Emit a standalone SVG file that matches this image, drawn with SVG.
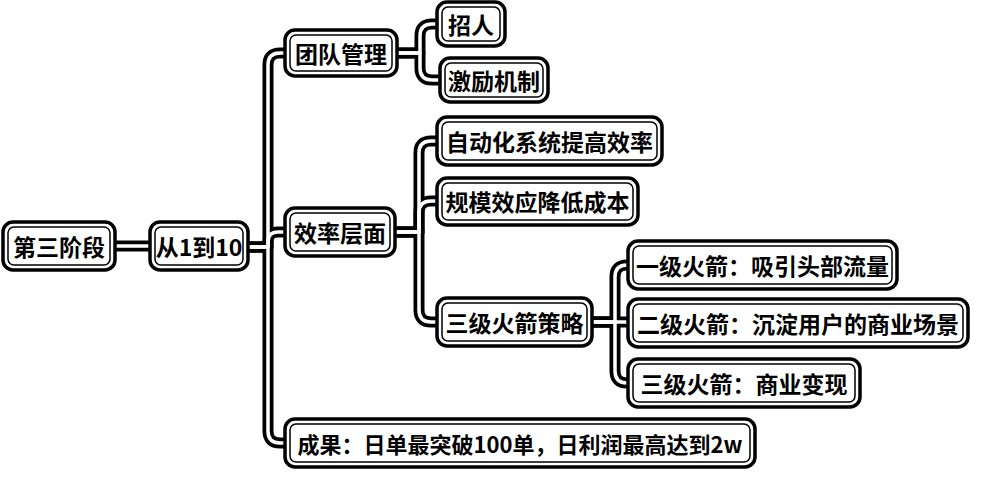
<svg xmlns="http://www.w3.org/2000/svg" width="999" height="478" viewBox="0 0 999 478">
<style>
.bg{fill:#ffffff}
.box{fill:#ffffff;stroke:#000000;stroke-width:3.5}
.inner{fill:none;stroke:#000000;stroke-width:1.5}
.t{font-family:"Noto Sans CJK SC","Noto Sans",sans-serif;font-size:23px;font-weight:bold;fill:#000000;text-anchor:middle;dominant-baseline:central}
.s{font-size:22px}
.lo{fill:none;stroke:#000000;stroke-width:11;stroke-linejoin:round}
.li{fill:none;stroke:#ffffff;stroke-width:3.5;stroke-linejoin:round}
</style>
<defs>
<g id="links">
<path d="M115 246 H150"/>
<path d="M248 247 H268 V65 Q268 53 280 53 H285"/>
<path d="M248 247 H268 V242 Q268 232 278 232 H285"/>
<path d="M248 247 H268 V431 Q268 443 280 443 H285"/>
<path d="M397 53 H420 V36 Q420 24 432 24 H437"/>
<path d="M397 53 H420 V68 Q420 80 432 80 H440"/>
<path d="M395 232 H419 V153 Q419 141 431 141 H437"/>
<path d="M395 232 H419 V213 Q419 201 431 201 H437"/>
<path d="M395 232 H419 V310 Q419 322 431 322 H437"/>
<path d="M592 322 H615 V277 Q615 265 627 265 H628"/>
<path d="M592 322 H628"/>
<path d="M592 322 H615 V371 Q615 383 627 383 H628"/>
</g>
</defs>
<rect class="bg" x="0" y="0" width="999" height="478"/>
<g id="connectors">
<use href="#links" class="lo"/>
<use href="#links" class="li"/>
</g>
<g id="n-stage3"><rect class="box" x="3" y="222" width="112" height="48" rx="10"/><rect class="inner" x="8" y="227" width="102" height="38" rx="6"/><text class="t" x="59" y="246">第三阶段</text></g>
<g id="n-1to10"><rect class="box" x="150" y="222" width="98" height="48" rx="10"/><rect class="inner" x="155" y="227" width="88" height="38" rx="6"/><text class="t" x="199" y="246">从1到10</text></g>
<g id="n-team"><rect class="box" x="285" y="30" width="112" height="46" rx="10"/><rect class="inner" x="290" y="35" width="102" height="36" rx="6"/><text class="t" x="341" y="53">团队管理</text></g>
<g id="n-hire"><rect class="box" x="437" y="2" width="68" height="44" rx="10"/><rect class="inner" x="442" y="7" width="58" height="34" rx="6"/><text class="t" x="471" y="24">招人</text></g>
<g id="n-incent"><rect class="box" x="440" y="58" width="108" height="44" rx="10"/><rect class="inner" x="445" y="63" width="98" height="34" rx="6"/><text class="t" x="494" y="80">激励机制</text></g>
<g id="n-eff"><rect class="box" x="285" y="208" width="110" height="48" rx="10"/><rect class="inner" x="290" y="213" width="100" height="38" rx="6"/><text class="t" x="340" y="232">效率层面</text></g>
<g id="n-auto"><rect class="box" x="437" y="117" width="225" height="48" rx="10"/><rect class="inner" x="442" y="122" width="215" height="38" rx="6"/><text class="t" x="549.5" y="141">自动化系统提高效率</text></g>
<g id="n-scale"><rect class="box" x="437" y="178" width="201" height="47" rx="10"/><rect class="inner" x="442" y="183" width="191" height="37" rx="6"/><text class="t" x="537.5" y="201">规模效应降低成本</text></g>
<g id="n-rocket"><rect class="box" x="437" y="298" width="155" height="48" rx="10"/><rect class="inner" x="442" y="303" width="145" height="38" rx="6"/><text class="t" x="514.5" y="322">三级火箭策略</text></g>
<g id="n-r1"><rect class="box" x="628" y="241" width="269" height="48" rx="10"/><rect class="inner" x="633" y="246" width="259" height="38" rx="6"/><text class="t" x="762.5" y="265">一级火箭：吸引头部流量</text></g>
<g id="n-r2"><rect class="box" x="628" y="299" width="340" height="48" rx="10"/><rect class="inner" x="633" y="304" width="330" height="38" rx="6"/><text class="t" x="798" y="323">二级火箭：沉淀用户的商业场景</text></g>
<g id="n-r3"><rect class="box" x="628" y="359" width="232" height="48" rx="10"/><rect class="inner" x="633" y="364" width="222" height="38" rx="6"/><text class="t" x="744" y="383">三级火箭：商业变现</text></g>
<g id="n-result"><rect class="box" x="285" y="419" width="470" height="48" rx="10"/><rect class="inner" x="290" y="424" width="460" height="38" rx="6"/><text class="t s" x="520" y="443">成果：日单最突破100单，日利润最高达到2w</text></g>
</svg>
